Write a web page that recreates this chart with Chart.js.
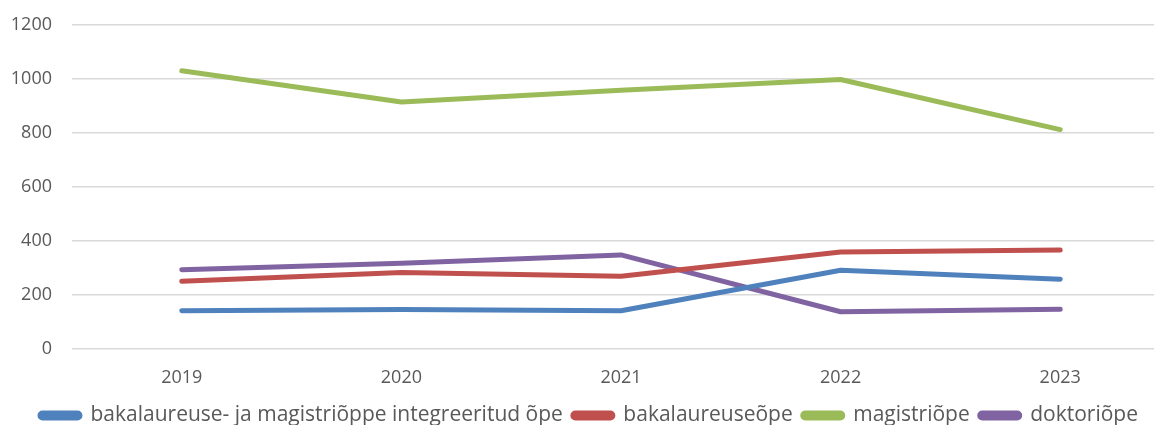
<!DOCTYPE html>
<html>
<head>
<meta charset="utf-8">
<script src="https://cdn.jsdelivr.net/npm/chart.js@4/dist/chart.umd.min.js"></script>
<style>
  html, body { margin: 0; padding: 0; background: #fff; overflow: hidden; }
  #wrap { width: 1200px; height: 425px; }
</style>
</head>
<body>
<div id="wrap"><canvas id="studyChart"></canvas></div>
<script>
const years = ["2019", "2020", "2021", "2022", "2023"];
const integrated = [140, 144, 140, 290, 257];
const bachelor = [249, 282, 268, 358, 365];
const master = [1030, 914, 958, 998, 812];
const doctoral = [292, 316, 347, 136, 145];
const seriesNames = [
  "bakalaureuse- ja magistriõppe integreeritud õpe",
  "bakalaureuseõpe",
  "magistriõpe",
  "doktoriõpe"
];
const seriesColors = ["#4F81BD", "#C0504D", "#9BBB59", "#8064A2"];

const seriesValues = [integrated, bachelor, master, doctoral];

const fontFamily = "'Open Sans', 'Liberation Sans', sans-serif";

const chart = new Chart(document.getElementById("studyChart"), {
  type: "line",
  data: {
    labels: years,
    datasets: seriesValues.map((values, i) => ({
      label: seriesNames[i],
      data: values,
      borderColor: seriesColors[i],
      backgroundColor: seriesColors[i],
      borderWidth: 5,
      borderCapStyle: "round",
      borderJoinStyle: "round",
      pointRadius: 0,
      pointHoverRadius: 0,
      tension: 0
    }))
  },
  options: {
    responsive: true,
    maintainAspectRatio: false,
    animation: false,
    layout: { padding: { left: 8, top: 25, right: 30, bottom: -11 } },
    plugins: {
      tooltip: { enabled: false },
      legend: {
        position: "bottom",
        labels: {
          color: "#595959",
          font: { family: fontFamily, size: 21 },
          boxWidth: 40,
          boxHeight: 5,
          useBorderRadius: true,
          borderRadius: 2.5,
          padding: 10
        }
      }
    },
    scales: {
      x: {
        offset: true,
        grid: { display: false },
        border: { display: false },
        afterFit: axis => { axis.height -= 5; },
        ticks: {
          color: "#595959",
          font: { family: fontFamily, size: 18 },
          padding: 11
        }
      },
      y: {
        min: 0,
        max: 1200,
        grid: { color: "#D9D9D9", lineWidth: 1.5, drawTicks: false },
        border: { display: false },
        afterFit: axis => {
          axis.width = 64;
          axis.paddingTop = 0;
          axis.paddingBottom = 0;
        },
        ticks: {
          stepSize: 200,
          color: "#595959",
          font: { family: fontFamily, size: 18 },
          padding: 20,
          callback: value => String(value)
        }
      }
    }
  }
});
</script>
</body>
</html>
